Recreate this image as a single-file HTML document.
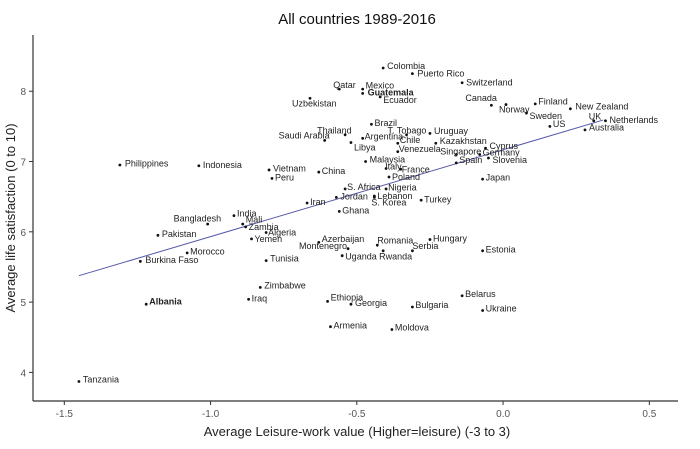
<!DOCTYPE html>
<html><head><meta charset="utf-8"><style>
body{margin:0;background:#fff;}
svg{display:block;font-family:"Liberation Sans",sans-serif;}
</style></head><body>
<svg id="chart" width="700" height="449">
<text x="357" y="24" text-anchor="middle" font-size="15" fill="#111">All countries 1989-2016</text>
<text transform="translate(15,218) rotate(-90)" text-anchor="middle" font-size="13" fill="#222">Average life satisfaction (0 to 10)</text>
<text x="357" y="436" text-anchor="middle" font-size="13" fill="#222">Average Leisure-work value (Higher=leisure) (-3 to 3)</text>
<g id="axes"></g><g id="fit"></g><g id="points"></g>
</svg>
<script>
const countries=["Qatar","Uzbekistan","Saudi Arabia","Thailand","Libya","Philippines","Indonesia","Vietnam","Peru","China","S. Africa","Jordan","Iran","Ghana","India","Bangladesh","Mali","Zambia","Algeria","Yemen","Pakistan","Azerbaijan","Montenegro","Morocco","Burkina Faso","Tunisia","Uganda","Zimbabwe","Iraq","Albania","Ethiopia","Armenia","Tanzania","Georgia","Romania","Rwanda","Serbia","Hungary","Estonia","Belarus","Bulgaria","Ukraine","Moldova","Colombia","Puerto Rico","Switzerland","Mexico","Guatemala","Ecuador","Canada","Norway","Finland","Sweden","New Zealand","US","UK","Netherlands","Australia","Brazil","T. Tobago","Uruguay","Argentina","Chile","Kazakhstan","Venezuela","Cyprus","Singapore","Germany","Spain","Slovenia","Malaysia","Italy","France","Poland","Japan","Nigeria","Lebanon","S. Korea","Turkey"];
const leisure=[-0.56,-0.66,-0.61,-0.54,-0.52,-1.31,-1.04,-0.80,-0.79,-0.63,-0.54,-0.57,-0.67,-0.56,-0.92,-1.01,-0.89,-0.88,-0.81,-0.86,-1.18,-0.63,-0.53,-1.08,-1.24,-0.81,-0.55,-0.83,-0.87,-1.22,-0.60,-0.59,-1.45,-0.52,-0.43,-0.41,-0.31,-0.25,-0.07,-0.14,-0.31,-0.07,-0.38,-0.41,-0.31,-0.14,-0.48,-0.48,-0.42,-0.04,0.01,0.11,0.08,0.23,0.16,0.31,0.35,0.28,-0.45,-0.33,-0.25,-0.48,-0.36,-0.23,-0.36,-0.06,-0.16,-0.08,-0.16,-0.05,-0.47,-0.40,-0.35,-0.39,-0.07,-0.40,-0.44,-0.44,-0.28];
const satisfaction=[8.03,7.90,7.30,7.38,7.27,6.95,6.94,6.88,6.76,6.85,6.61,6.49,6.41,6.29,6.23,6.11,6.11,6.07,5.99,5.90,5.95,5.85,5.76,5.70,5.58,5.59,5.66,5.21,5.04,4.97,5.01,4.65,3.87,4.97,5.81,5.73,5.73,5.89,5.73,5.09,4.93,4.88,4.61,8.33,8.25,8.12,8.03,7.97,7.92,7.80,7.81,7.82,7.69,7.75,7.50,7.58,7.58,7.45,7.53,7.38,7.40,7.33,7.26,7.26,7.14,7.19,7.10,7.10,6.98,7.05,7.00,6.90,6.89,6.78,6.75,6.61,6.51,6.49,6.45];
const boldNames=["Guatemala","Albania"];
const xTicks=[-1.5,-1.0,-0.5,0.0,0.5];
const xTickLabels=["-1.5","-1.0","-0.5","0.0","0.5"];
const yTicks=[4,5,6,7,8];
const yTickLabels=["4","5","6","7","8"];
const fitSlope=1.2355, fitIntercept=7.167, fitRange=[-1.45,0.342];
// label offsets (styling)
const off={"Qatar":[-6,-1],"Uzbekistan":[-18,8],"Saudi Arabia":[-46,-2],"Thailand":[-28,-1.5],"Libya":[3,8],"Philippines":[5,1.5],"Indonesia":[4,2.5],"Vietnam":[4,1.5],"Peru":[3,2],"China":[3,2],"S. Africa":[2,1],"Jordan":[4,2],"Iran":[3,2],"Ghana":[3,2],"India":[3,1],"Bangladesh":[-34,-2.5],"Mali":[3,-1.5],"Zambia":[3,3],"Algeria":[2,3],"Yemen":[3,3],"Pakistan":[4,1.5],"Azerbaijan":[3,-0.5],"Montenegro":[-49,0.5],"Morocco":[3,1.5],"Burkina Faso":[5,1.5],"Tunisia":[4,1],"Uganda":[3,4],"Zimbabwe":[4,1],"Iraq":[3,2],"Albania":[3,0.5],"Ethiopia":[3,-1],"Armenia":[3,2],"Tanzania":[4,1],"Georgia":[4,2],"Romania":[0,-1.5],"Rwanda":[-4,8.5],"Serbia":[0,-2],"Hungary":[3,2],"Estonia":[3,1.5],"Belarus":[3,1],"Bulgaria":[3,1],"Ukraine":[3,1],"Moldova":[3,1],"Colombia":[4,1],"Puerto Rico":[5,3],"Switzerland":[4,2.5],"Mexico":[3,-0.5],"Guatemala":[5,2],"Ecuador":[3,6],"Canada":[-26,-4.5],"Norway":[-7,8],"Finland":[3,0.5],"Sweden":[3,6],"New Zealand":[5,0.5],"US":[3,0.5],"UK":[-5,-1.5],"Netherlands":[4,2],"Australia":[4,0.5],"Brazil":[3,1.5],"T. Tobago":[-19,-1.5],"Uruguay":[4,0.5],"Argentina":[2,1],"Chile":[2,0],"Kazakhstan":[4,1],"Venezuela":[1,0.5],"Cyprus":[4,1],"Singapore":[-16,0],"Germany":[3,1],"Spain":[3,0],"Slovenia":[4,5],"Malaysia":[4,1],"Italy":[-1,1],"France":[1,3],"Poland":[3,3],"Japan":[3,1.5],"Nigeria":[2,1.5],"Lebanon":[3,3],"S. Korea":[-3,8],"Turkey":[3,2.5]};
const L=33,R=678,T=35,B=401;
const xMin=-1.607,xMax=0.598,yMin=3.593,yMax=8.80;
const sx=v=>L+(v-xMin)/(xMax-xMin)*(R-L);
const sy=v=>B-(v-yMin)/(yMax-yMin)*(B-T);
const NS="http://www.w3.org/2000/svg";
function mk(tag,attrs,parent,txt){const e=document.createElementNS(NS,tag);for(const k in attrs)e.setAttribute(k,attrs[k]);if(txt!==undefined)e.textContent=txt;parent.appendChild(e);return e;}
const axes=document.getElementById('axes');
const xl=mk('line',{x1:L,y1:B,x2:R,y2:B,stroke:'#333','stroke-width':1.2},axes);


const yl=mk('line',{x1:L,y1:T,x2:L,y2:B,stroke:'#333','stroke-width':1.2},axes);


xTicks.forEach((v,i)=>{
 const t=mk('line',{x1:sx(v),y1:B,x2:sx(v),y2:B+4,stroke:'#333'},axes);
 
 
 const lb=mk('text',{x:sx(v),y:B+16,'text-anchor':'middle','font-size':10,fill:'#555'},axes,xTickLabels[i]);
 
 
});
yTicks.forEach((v,i)=>{
 const t=mk('line',{x1:L-4,y1:sy(v),x2:L,y2:sy(v),stroke:'#333'},axes);
 
 
 const lb=mk('text',{x:L-7,y:sy(v)+4,'text-anchor':'end','font-size':10,fill:'#555'},axes,yTickLabels[i]);
 
 
});
const fit=mk('line',{x1:sx(fitRange[0]),y1:sy(fitIntercept+fitSlope*fitRange[0]),x2:sx(fitRange[1]),y2:sy(fitIntercept+fitSlope*fitRange[1]),stroke:'#5558a8','stroke-width':1},document.getElementById('fit'));


const pg=document.getElementById('points');
countries.forEach((c,i)=>{
 const x=sx(leisure[i]),y=sy(satisfaction[i]);
 const d=mk('circle',{cx:x,cy:y,r:1.4,fill:'#111'},pg);
 
 
 const o=off[c]||[4,3];
 const t=mk('text',{x:x+o[0],y:y+o[1],'font-size':9,fill:'#222','font-weight':boldNames.includes(c)?'bold':'normal'},pg,c);
 
 
});
</script>
</body></html>
